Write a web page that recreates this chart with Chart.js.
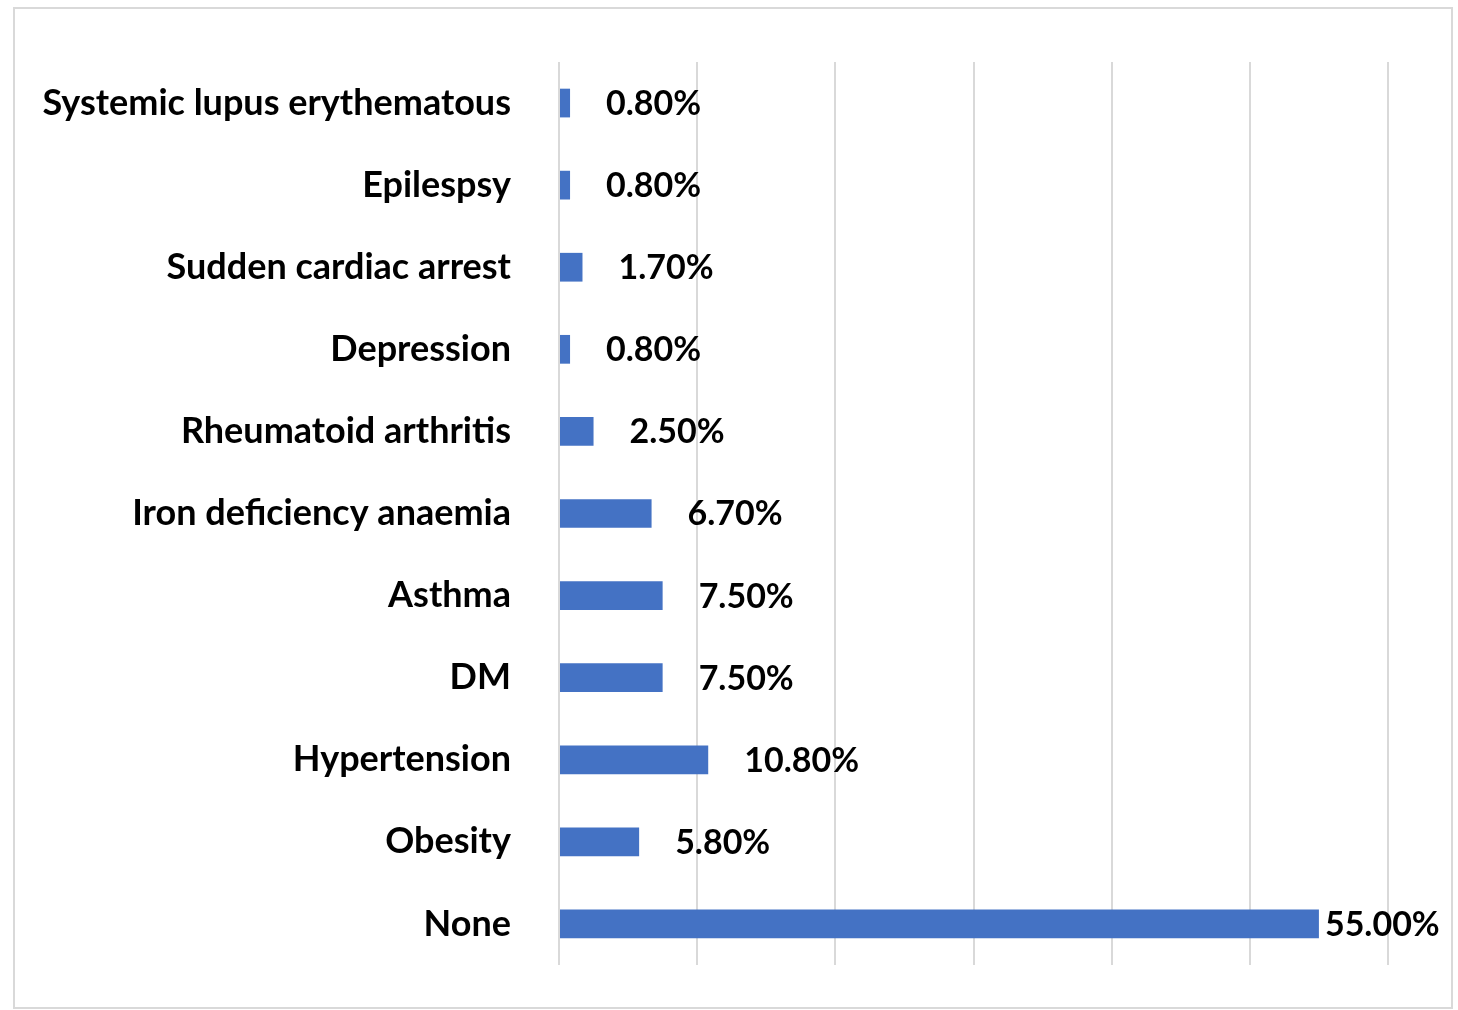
<!DOCTYPE html>
<html>
<head>
<meta charset="utf-8">
<script src="https://cdn.jsdelivr.net/npm/chart.js@4/dist/chart.umd.min.js"></script>
<style>
  html, body { margin: 0; padding: 0; background: #fff; }
  #wrap { width: 1458px; height: 1010px; }
</style>
</head>
<body>
<div id="wrap"><canvas id="ComorbidChart" width="1458" height="1010"></canvas></div>
<script>
// categories, top to bottom as in the picture
var conditions = [
  'Systemic lupus erythematous',
  'Epilespsy',
  'Sudden cardiac arrest',
  'Depression',
  'Rheumatoid arthritis',
  'Iron deficiency anaemia',
  'Asthma',
  'DM',
  'Hypertension',
  'Obesity',
  'None'
];
// percent of respondents
var percents = [0.8, 0.8, 1.7, 0.8, 2.5, 6.7, 7.5, 7.5, 10.8, 5.8, 55.0];
var axisMax = 60;
var axisStep = 10;

var labelFont = 'bold 34px Lato, "Liberation Sans", sans-serif';

// outer frame like the exported picture
var framePlugin = {
  id: 'frame',
  beforeDraw: function(chart) {
    var c = chart.ctx;
    c.save();
    c.strokeStyle = '#d9d9d9';
    c.lineWidth = 2;
    c.strokeRect(14, 8, 1438, 1000);
    c.restore();
  }
};

// value labels after each bar
var valuePlugin = {
  id: 'values',
  afterDatasetsDraw: function(chart) {
    var c = chart.ctx;
    var meta = chart.getDatasetMeta(0);
    c.save();
    c.font = labelFont;
    c.fillStyle = '#000';
    c.textBaseline = 'middle';
    c.textAlign = 'left';
    meta.data.forEach(function(bar, i) {
      var txt = percents[i].toFixed(2) + '%';
      var w = c.measureText(txt).width;
      var x = bar.x + 36;
      if (x + w > chart.width - 10) x = bar.x + 6;
      c.fillText(txt, x, bar.y + 1);
    });
    c.restore();
  }
};

var ctx = document.getElementById('ComorbidChart').getContext('2d');
var chart = new Chart(ctx, {
  type: 'bar',
  data: {
    labels: conditions,
    datasets: [{
      label: 'Comorbidities',
      data: percents,
      backgroundColor: '#4472C4',
      borderWidth: 0,
      categoryPercentage: 1,
      barPercentage: 0.35
    }]
  },
  options: {
    indexAxis: 'y',
    responsive: false,
    animation: false,
    layout: { padding: { top: 62, bottom: 45, right: 70, left: 0 } },
    plugins: {
      legend: { display: false },
      tooltip: { enabled: false }
    },
    scales: {
      x: {
        min: 0,
        max: axisMax,
        ticks: { display: false, stepSize: axisStep },
        grid: { color: '#d9d9d9', lineWidth: 2, drawTicks: false },
        border: { display: false },
        afterFit: function(scale) {
          scale.height = 0;
          scale.paddingLeft = 0;
          scale.paddingRight = 0;
        }
      },
      y: {
        grid: { display: false, drawTicks: false },
        border: { display: false },
        ticks: {
          color: '#000',
          padding: 48,
          font: { family: 'Lato, "Liberation Sans", sans-serif', size: 36, weight: 'bold' }
        },
        afterFit: function(scale) {
          scale.width = 559;
          scale.paddingTop = 0;
          scale.paddingBottom = 0;
        }
      }
    }
  },
  plugins: [framePlugin, valuePlugin]
});
</script>
</body>
</html>
